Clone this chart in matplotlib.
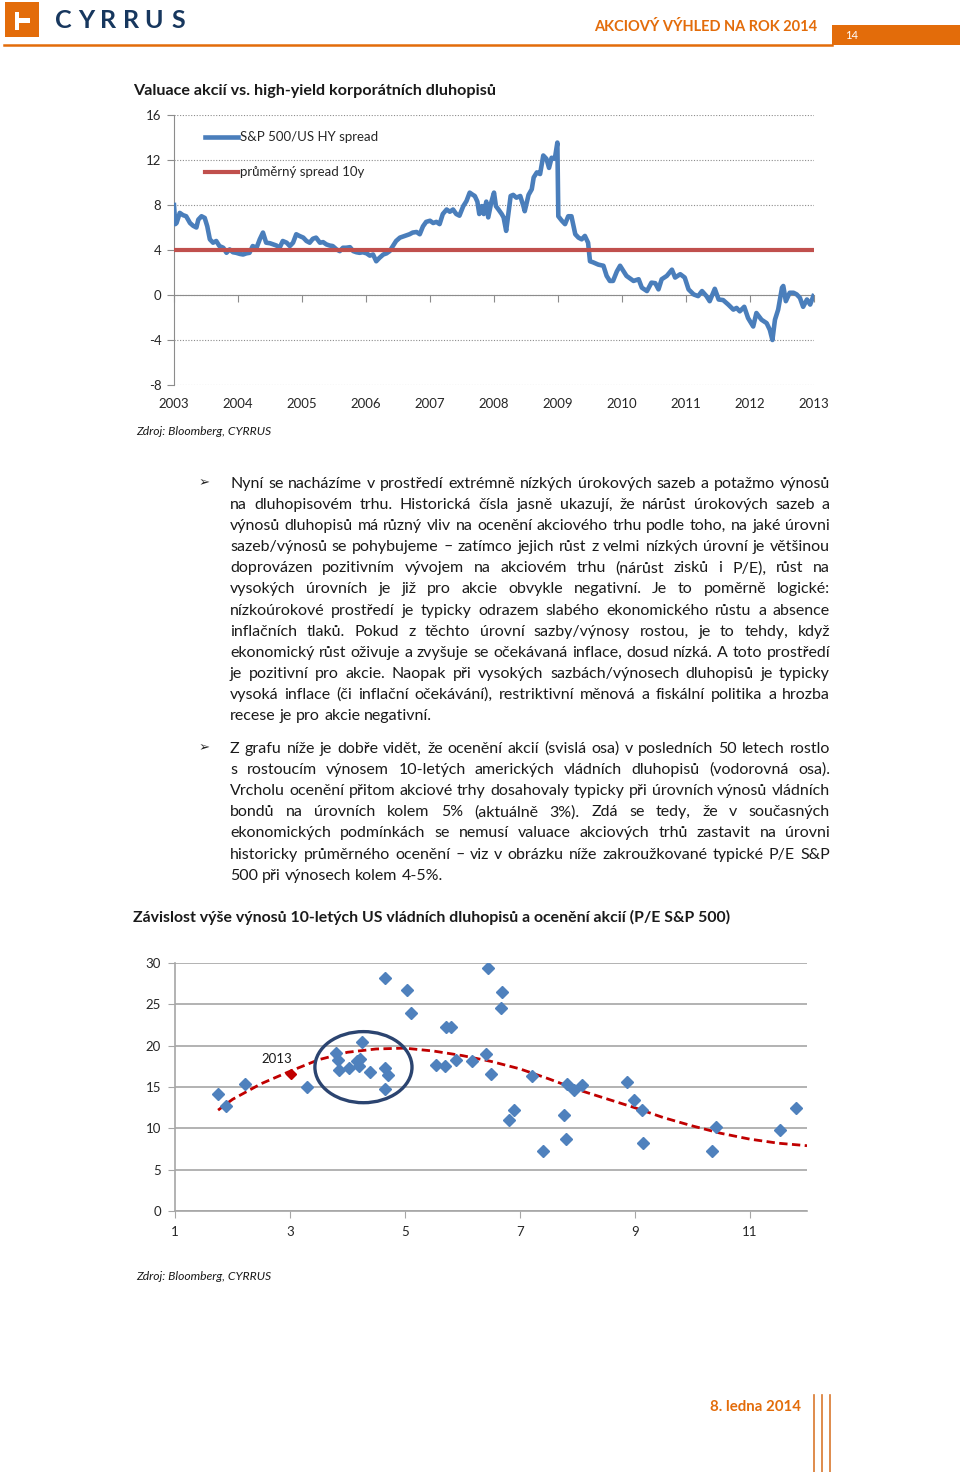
import numpy as np
import matplotlib
matplotlib.use('Agg')
import matplotlib.pyplot as plt
from matplotlib.patches import Ellipse, Rectangle
from matplotlib.font_manager import FontProperties
from matplotlib.lines import Line2D

# ---------------- data ----------------
spread_years = [2003.00, 2003.02, 2003.04, 2003.09, 2003.14, 2003.19, 2003.25, 2003.30, 2003.35, 2003.38,
                2003.43, 2003.48, 2003.52, 2003.56, 2003.61, 2003.66, 2003.71, 2003.77, 2003.82, 2003.87,
                2003.92, 2003.97, 2004.03, 2004.08, 2004.13, 2004.18, 2004.23, 2004.29, 2004.34, 2004.39,
                2004.44, 2004.50, 2004.55, 2004.60, 2004.65, 2004.70, 2004.76, 2004.81, 2004.86, 2004.91,
                2004.96, 2005.02, 2005.07, 2005.12, 2005.17, 2005.22, 2005.28, 2005.33, 2005.38, 2005.43,
                2005.48, 2005.54, 2005.59, 2005.64, 2005.69, 2005.75, 2005.80, 2005.85, 2005.90, 2005.95,
                2006.01, 2006.06, 2006.11, 2006.16, 2006.21, 2006.27, 2006.32, 2006.37, 2006.42, 2006.47,
                2006.53, 2006.58, 2006.63, 2006.68, 2006.73, 2006.79, 2006.84, 2006.89, 2006.94, 2007.00,
                2007.05, 2007.10, 2007.15, 2007.20, 2007.26, 2007.31, 2007.36, 2007.41, 2007.46, 2007.52,
                2007.57, 2007.62, 2007.67, 2007.70, 2007.74, 2007.77, 2007.81, 2007.84, 2007.88, 2007.91,
                2007.96, 2008.00, 2008.03, 2008.07, 2008.12, 2008.15, 2008.19, 2008.22, 2008.26, 2008.30,
                2008.35, 2008.41, 2008.46, 2008.48, 2008.54, 2008.59, 2008.62, 2008.67, 2008.72, 2008.77,
                2008.82, 2008.86, 2008.90, 2008.95, 2008.99, 2009.005, 2009.06, 2009.11, 2009.16, 2009.21,
                2009.27, 2009.32, 2009.37, 2009.42, 2009.47, 2009.50, 2009.55, 2009.63, 2009.71, 2009.76,
                2009.81, 2009.86, 2009.92, 2009.97, 2010.07, 2010.18, 2010.26, 2010.31, 2010.39, 2010.46,
                2010.52, 2010.57, 2010.62, 2010.70, 2010.78, 2010.83, 2010.91, 2010.98, 2011.04, 2011.12,
                2011.19, 2011.25, 2011.32, 2011.37, 2011.45, 2011.51, 2011.58, 2011.66, 2011.74, 2011.79,
                2011.84, 2011.91, 2011.97, 2012.05, 2012.10, 2012.18, 2012.26, 2012.31, 2012.35, 2012.39,
                2012.44, 2012.50, 2012.52, 2012.56, 2012.62, 2012.68, 2012.73, 2012.78, 2012.83, 2012.89,
                2012.94, 2012.99]
spread_values = [8.0, 6.3, 6.4, 7.3, 7.1, 7.0, 6.4, 6.15, 6.0, 6.7,
                 7.0, 6.85, 6.1, 4.95, 4.65, 4.8, 4.35, 4.2, 3.75, 4.05,
                 3.8, 3.75, 3.65, 3.6, 3.7, 3.75, 4.35, 4.2, 4.95, 5.55,
                 4.65, 4.6, 4.5, 4.4, 4.2, 4.8, 4.65, 4.35, 4.65, 5.4,
                 5.25, 5.1, 4.8, 4.65, 5.0, 5.1, 4.65, 4.7, 4.5, 4.4,
                 4.35, 4.05, 3.9, 4.2, 4.2, 4.25, 3.9, 3.8, 3.75, 3.8,
                 3.7, 3.5, 3.6, 3.0, 3.3, 3.6, 3.7, 3.9, 4.35, 4.8,
                 5.1, 5.2, 5.3, 5.4, 5.55, 5.6, 5.4, 6.1, 6.5, 6.6,
                 6.4, 6.5, 6.3, 7.2, 7.6, 7.4, 7.6, 7.2, 7.05, 7.9,
                 8.35, 9.1, 8.9, 8.8, 8.3, 7.2, 7.9, 7.2, 8.3, 6.9,
                 8.3, 9.1, 7.9, 7.6, 7.2, 6.9, 5.7, 7.0, 8.8, 8.9,
                 8.65, 8.8, 7.9, 7.45, 8.9, 9.4, 10.45, 10.9, 10.75, 12.4,
                 12.1, 11.3, 12.2, 12.1, 13.55, 7.0, 6.6, 6.3, 7.0, 7.0,
                 5.4, 5.1, 4.95, 5.25, 4.65, 3.0, 2.9, 2.7, 2.6, 1.7,
                 1.25, 1.25, 2.1, 2.6, 1.7, 1.25, 1.4, 0.65, 0.35, 1.1,
                 1.05, 0.5, 1.4, 1.7, 2.25, 1.55, 1.85, 1.55, 0.5, 0.05,
                 -0.1, 0.35, -0.1, -0.55, 0.55, -0.4, -0.45, -0.85, -1.3, -1.15,
                 -1.45, -1.05, -2.05, -2.8, -1.6, -2.2, -2.5, -3.1, -4.0, -2.2,
                 -1.3, 0.65, 0.8, -0.55, 0.2, 0.2, 0.05, -0.25, -1.05, -0.4,
                 -0.85, -0.1]
avg_spread = 4.0
avg_years = [2003.0, 2013.0]
c1_years = list(range(2003, 2014))
c1_yticks = [-8, -4, 0, 4, 8, 12, 16]
legend_labels = ['S&P 500/US HY spread', 'průměrný spread 10y']

pe_x = [1.75, 1.89, 2.22, 3.30, 3.81, 3.84, 3.85, 4.03, 4.16, 4.22, 4.25, 4.21, 4.39,
        4.65, 4.65, 4.70, 4.65, 5.04, 5.10, 5.72, 5.81, 5.55, 5.70, 5.89, 6.17,
        6.45, 6.69, 6.68, 6.41, 6.50, 6.90, 6.82, 7.22, 7.41, 7.77, 7.80, 7.83,
        7.94, 8.08, 8.86, 8.99, 9.13, 9.15, 10.34, 10.41, 11.53, 11.81]
pe_y = [14.1, 12.7, 15.4, 15.0, 19.15, 18.3, 17.1, 17.3, 18.2, 18.4, 20.4, 17.6, 16.8,
        17.3, 14.8, 16.5, 28.2, 26.7, 24.0, 22.2, 22.2, 17.7, 17.5, 18.3, 18.1,
        29.4, 26.5, 24.6, 19.0, 16.6, 12.2, 11.0, 16.3, 7.3, 11.65, 8.7, 15.4,
        14.6, 15.2, 15.6, 13.4, 12.2, 8.2, 7.3, 10.2, 9.8, 12.4]
pe_2013_x = [3.02]
pe_2013_y = [16.6]
trend_x = [1.75, 2.0, 2.5, 3.0, 3.5, 4.0, 4.5, 5.0, 5.5, 6.0, 6.5, 7.0, 7.5, 8.0,
           8.5, 9.0, 9.5, 10.0, 10.5, 11.0, 11.5, 12.0]
trend_y = [12.2, 13.5, 15.4, 16.9, 18.3, 19.2, 19.6, 19.7, 19.35, 18.8, 18.1, 17.2, 16.0, 14.7,
           13.6, 12.5, 11.3, 10.3, 9.4, 8.7, 8.2, 7.9]
c2_xticks = [1, 3, 5, 7, 9, 11]
c2_yticks = [0, 5, 10, 15, 20, 25, 30]

para1 = [
    "Nyní se nacházíme v prostředí extrémně nízkých úrokových sazeb a potažmo výnosů",
    "na dluhopisovém trhu. Historická čísla jasně ukazují, že nárůst úrokových sazeb a",
    "výnosů dluhopisů má různý vliv na ocenění akciového trhu podle toho, na jaké úrovni",
    "sazeb/výnosů se pohybujeme – zatímco jejich růst z velmi nízkých úrovní je většinou",
    "doprovázen pozitivním vývojem na akciovém trhu (nárůst zisků i P/E), růst na",
    "vysokých úrovních je již pro akcie obvykle negativní. Je to poměrně logické:",
    "nízkoúrokové prostředí je typicky odrazem slabého ekonomického růstu a absence",
    "inflačních tlaků. Pokud z těchto úrovní sazby/výnosy rostou, je to tehdy, když",
    "ekonomický růst oživuje a zvyšuje se očekávaná inflace, dosud nízká. A toto prostředí",
    "je pozitivní pro akcie. Naopak při vysokých sazbách/výnosech dluhopisů je typicky",
    "vysoká inflace (či inflační očekávání), restriktivní měnová a fiskální politika a hrozba",
    "recese je pro akcie negativní.",
]
para2 = [
    "Z grafu níže je dobře vidět, že ocenění akcií (svislá osa) v posledních 50 letech rostlo",
    "s rostoucím výnosem 10-letých amerických vládních dluhopisů (vodorovná osa).",
    "Vrcholu ocenění přitom akciové trhy dosahovaly typicky při úrovních výnosů vládních",
    "bondů na úrovních kolem 5% (aktuálně 3%). Zdá se tedy, že v současných",
    "ekonomických podmínkách se nemusí valuace akciových trhů zastavit na úrovni",
    "historicky průměrného ocenění – viz v obrázku níže zakroužkované typické P/E S&P",
    "500 při výnosech kolem 4-5%.",
]

# ---------------- setup ----------------
W, H = 960, 1472
FAM = ['Lato', 'DejaVu Sans']
plt.rcParams['font.family'] = FAM
plt.rcParams['axes.unicode_minus'] = False
fig = plt.figure(figsize=(W / 100, H / 100), dpi=100)
renderer = fig.canvas.get_renderer()
ORANGE = '#e36c0a'
TXT = '#1a1a1a'


def fx(x):
    return x / W


def fy(y):
    return 1 - y / H


def twidth(s, size, weight='normal', style='normal', family=FAM):
    fp = FontProperties(family=family, size=size, weight=weight, style=style)
    w, h, d = renderer.get_text_width_height_descent(s, fp, ismath=False)
    return w


def fit_text(x, y, s, width, ha='left', weight='normal', style='normal', color=TXT, family=FAM):
    size = 10 * width / twidth(s, 10, weight, style, family)
    fig.text(fx(x), fy(y), s, fontsize=size, ha=ha, va='baseline', fontweight=weight,
             fontstyle=style, color=color, family=family)
    return size


def draw_para(lines, x0, x1, baselines, size):
    space = twidth('a a', size) - twidth('aa', size)
    for i, (line, yb) in enumerate(zip(lines, baselines)):
        words = line.split(' ')
        widths = [twidth(w, size) for w in words]
        if i == len(lines) - 1 or len(words) == 1:
            gap = space
        else:
            gap = (x1 - x0 - sum(widths)) / (len(words) - 1)
        x = x0
        for w, wd in zip(words, widths):
            fig.text(fx(x), fy(yb), w, fontsize=size, ha='left', va='baseline', color=TXT)
            x += wd + gap


# ---------------- header ----------------
fig.patches.append(Rectangle((fx(5), fy(37)), fx(34), 35 / H, transform=fig.transFigure,
                             facecolor=ORANGE, edgecolor='none'))
fig.patches.append(Rectangle((fx(15), fy(30)), fx(4), 18 / H, transform=fig.transFigure,
                             facecolor='white', edgecolor='none'))
fig.patches.append(Rectangle((fx(19), fy(23)), fx(11), 5 / H, transform=fig.transFigure,
                             facecolor='white', edgecolor='none'))
for ch, cx in zip('CYRRUS', [63, 86, 108, 131, 154, 178]):
    fig.text(fx(cx), fy(28), ch, fontsize=18, fontweight='bold', color='#17375e',
             ha='center', va='baseline', family=['Liberation Sans Narrow', 'Lato', 'DejaVu Sans'])
fit_text(817, 31, 'AKCIOVÝ VÝHLED NA ROK 2014', 225, ha='right', weight='bold', color=ORANGE)
fig.patches.append(Rectangle((fx(832), fy(45)), fx(128), 20 / H, transform=fig.transFigure,
                             facecolor=ORANGE, edgecolor='none'))
fig.text(fx(845), fy(39), '14', fontsize=8, color='white', ha='left', va='baseline')
fig.add_artist(Line2D([fx(4), fx(832)], [fy(44.5), fy(44.5)], transform=fig.transFigure,
                      color=ORANGE, lw=1.8))

# ---------------- titles ----------------
fit_text(133, 95, 'Valuace akcií vs. high-yield korporátních dluhopisů', 364, weight='bold')
fit_text(136, 435, 'Zdroj: Bloomberg, CYRRUS', 135, style='italic')
fit_text(133, 922, 'Závislost výše výnosů 10-letých US vládních dluhopisů a ocenění akcií (P/E S&P 500)',
         600, weight='bold')
fit_text(136, 1280, 'Zdroj: Bloomberg, CYRRUS', 135, style='italic')

# ---------------- body text ----------------
body_size = 10 * 203 / twidth(para1[-1], 10)
draw_para(para1, 230, 830, [488 + 21.1 * i for i in range(len(para1))], body_size)
draw_para(para2, 230, 830, [753 + 21.1 * i for i in range(len(para2))], body_size)
for yb in [486, 751]:
    fig.text(fx(204), fy(yb), '➢', fontsize=9.5, color='#222222', ha='center', va='baseline',
             family=['DejaVu Sans'])

# ---------------- chart 1 ----------------
ax1 = fig.add_axes([fx(174), fy(385), 640 / W, 270 / H])
ax1.set_xlim(2003, 2013)
ax1.set_ylim(-8, 16)
l1, = ax1.plot(spread_years, spread_values, color='#4a7ebb', lw=3.3, solid_joinstyle='round',
               zorder=3, label=legend_labels[0])
l2, = ax1.plot(avg_years, [avg_spread, avg_spread], color='#c0504d', lw=3.0, zorder=4,
               label=legend_labels[1])
ax1.set_yticks(c1_yticks)
ax1.set_xticks(c1_years)
ax1.yaxis.grid(True, linestyle=(0, (1, 1.5)), color='#8c8c8c', lw=0.8, zorder=0)
for s in ['top', 'right']:
    ax1.spines[s].set_visible(False)
ax1.spines['left'].set_color('#8c8c8c')
ax1.spines['bottom'].set_color('#8c8c8c')
ax1.spines['bottom'].set_position(('data', 0))
ax1.tick_params(axis='x', direction='out', length=5, color='#8c8c8c', labelbottom=False)
ax1.tick_params(axis='y', direction='out', length=5, color='#8c8c8c', labelsize=9.5,
                labelcolor='#262626', pad=4)
for yr in c1_years:
    ax1.text(yr, -0.072, str(yr), transform=ax1.get_xaxis_transform(), ha='center', va='center',
             fontsize=9.5, color='#262626')
ax1.legend(handles=[l1, l2], loc='upper left', bbox_to_anchor=(0.048, 0.94), frameon=False,
           fontsize=9.5, handlelength=2.5, handletextpad=0.2, labelspacing=1.75, borderpad=0,
           borderaxespad=0, labelcolor='#262626')

# ---------------- chart 2 ----------------
ax2 = fig.add_axes([fx(175), fy(1211), 632 / W, 248 / H])
ax2.set_xlim(1, 12)
ax2.set_ylim(0, 30)
ax2.set_xticks(c2_xticks)
ax2.set_yticks(c2_yticks)
ax2.yaxis.grid(True, color='#a6a6a6', lw=1.2, zorder=0)
for s in ['top', 'right']:
    ax2.spines[s].set_visible(False)
ax2.spines['left'].set_color('#a6a6a6')
ax2.spines['bottom'].set_color('#a6a6a6')
ax2.spines['left'].set_linewidth(1.2)
ax2.spines['bottom'].set_linewidth(1.2)
ax2.tick_params(axis='both', direction='out', length=5, color='#a6a6a6', labelsize=9.5,
                labelcolor='#262626')
ax2.tick_params(axis='x', pad=6)
ax2.tick_params(axis='y', pad=5)
ax2.plot(trend_x, trend_y, color='#c00000', lw=2.0, linestyle=(0, (3, 1.6)), zorder=3)
ax2.plot(pe_x, pe_y, linestyle='none', marker='D', markersize=6.3, color='#4f81bd',
         markeredgecolor='#4f81bd', zorder=4)
ax2.plot(pe_2013_x, pe_2013_y, linestyle='none', marker='D', markersize=5.5, color='#c00000',
         markeredgecolor='#c00000', zorder=5)
ax2.text(2.78, 18.4, '2013', ha='center', va='center', fontsize=9.5, color='#1a1a1a')
ax2.add_patch(Ellipse((4.28, 17.4), 1.69, 8.6, facecolor='none', edgecolor='#2b4470', lw=2.4,
                      zorder=6))

# ---------------- footer ----------------
fit_text(801, 1411, '8. ledna 2014', 91, ha='right', weight='bold', color=ORANGE)
for xl in [814, 822, 830]:
    fig.add_artist(Line2D([fx(xl), fx(xl)], [fy(1395), 0], transform=fig.transFigure,
                          color='#d9782d', lw=1.2))

fig.savefig('out.png', dpi=100)
